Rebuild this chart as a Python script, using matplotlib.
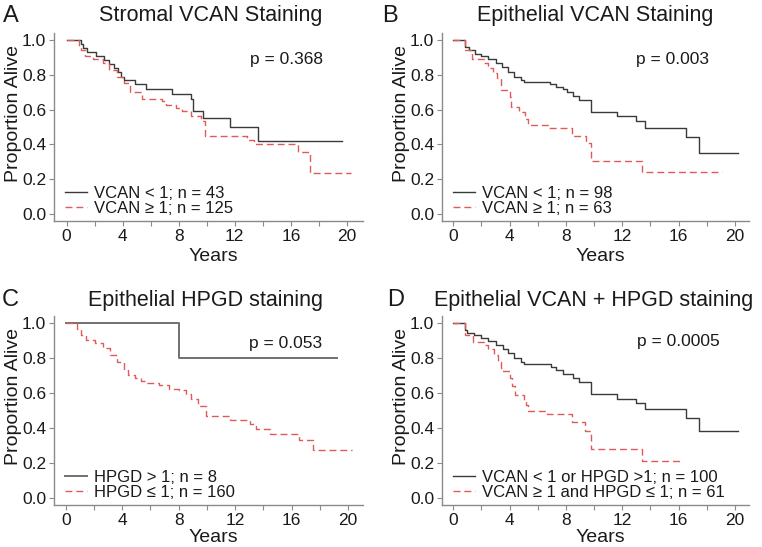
import matplotlib
matplotlib.use("Agg")
import matplotlib.pyplot as plt

plt.rcParams['font.family'] = ['Liberation Sans', 'DejaVu Sans']

# ---- data (time in years, proportion alive) ----
# A: stromal VCAN
a_low_t = [0, 1.04, 1.2, 1.47, 2.07, 2.7, 3.0, 3.4, 3.7, 3.9, 4.1, 4.9, 5.7, 7.5, 8.9, 9.0, 9.7, 11.65, 13.65, 19.65]
a_low_s = [1.0, 0.977, 0.953, 0.93, 0.907, 0.884, 0.86, 0.837, 0.814, 0.79, 0.77, 0.745, 0.717, 0.69, 0.66, 0.594, 0.55, 0.50, 0.42, 0.42]
a_high_t = [0, 0.9, 1.0, 1.3, 1.9, 2.6, 3.0, 3.6, 4.1, 4.5, 5.4, 6.8, 7.1, 7.8, 8.2, 8.9, 9.6, 9.9, 12.9, 13.4, 16.5, 17.4, 20.3]
a_high_s = [1.0, 0.96, 0.94, 0.91, 0.89, 0.865, 0.83, 0.79, 0.75, 0.70, 0.66, 0.65, 0.626, 0.61, 0.59, 0.563, 0.536, 0.446, 0.425, 0.403, 0.355, 0.235, 0.235]

# B: epithelial VCAN
b_low_t = [0, 0.8, 1.1, 1.55, 2.0, 2.5, 3.0, 3.45, 3.9, 4.3, 4.8, 5.0, 6.9, 7.3, 7.8, 8.1, 8.5, 8.9, 9.8, 11.6, 13.0, 13.6, 16.5, 17.45, 20.2]
b_low_s = [1.0, 0.96, 0.94, 0.92, 0.908, 0.889, 0.866, 0.847, 0.818, 0.79, 0.77, 0.76, 0.745, 0.73, 0.718, 0.70, 0.68, 0.655, 0.588, 0.563, 0.536, 0.496, 0.44, 0.352, 0.352]
b_high_t = [0, 0.85, 1.3, 2.2, 2.5, 2.8, 3.1, 3.4, 4.0, 4.1, 4.7, 5.1, 5.3, 6.7, 8.45, 9.4, 9.8, 13.4, 19.05]
b_high_s = [1.0, 0.94, 0.889, 0.866, 0.837, 0.81, 0.78, 0.713, 0.675, 0.613, 0.588, 0.544, 0.51, 0.492, 0.448, 0.41, 0.305, 0.243, 0.243]

# C: epithelial HPGD
c_high_t = [0, 8.0, 19.2]
c_high_s = [1.0, 0.8, 0.8]
c_low_t = [0, 0.8, 1.1, 1.45, 2.05, 2.65, 3.1, 3.6, 4.1, 4.4, 4.9, 5.35, 5.7, 6.6, 7.3, 8.0, 8.5, 8.9, 9.4, 9.9, 11.6, 13.05, 13.5, 14.5, 16.5, 17.5, 20.25]
c_low_s = [1.0, 0.965, 0.93, 0.905, 0.883, 0.855, 0.817, 0.78, 0.733, 0.705, 0.686, 0.667, 0.658, 0.643, 0.624, 0.615, 0.592, 0.564, 0.526, 0.466, 0.447, 0.424, 0.395, 0.366, 0.329, 0.273, 0.273]

# D: epithelial VCAN + HPGD
d_good_t = [0, 0.8, 1.0, 1.5, 2.0, 2.5, 3.0, 3.5, 3.9, 4.3, 4.8, 5.0, 6.95, 7.3, 7.8, 8.5, 8.9, 9.8, 11.6, 13.0, 13.6, 16.5, 17.45, 20.2]
d_good_s = [1.0, 0.96, 0.945, 0.93, 0.915, 0.896, 0.876, 0.854, 0.83, 0.80, 0.778, 0.765, 0.75, 0.73, 0.71, 0.687, 0.664, 0.594, 0.566, 0.541, 0.509, 0.455, 0.385, 0.385]
d_bad_t = [0, 0.85, 1.4, 2.2, 2.5, 2.9, 3.2, 3.4, 4.05, 4.2, 4.4, 5.05, 5.2, 5.3, 6.65, 8.45, 9.35, 9.8, 13.4, 16.3]
d_bad_s = [1.0, 0.933, 0.892, 0.873, 0.85, 0.815, 0.78, 0.725, 0.685, 0.64, 0.589, 0.555, 0.529, 0.50, 0.478, 0.437, 0.384, 0.28, 0.209, 0.209]

titles = ["Stromal VCAN Staining", "Epithelial VCAN Staining",
          "Epithelial HPGD staining", "Epithelial VCAN + HPGD staining"]
letters = ["A", "B", "C", "D"]
pvals = ["p = 0.368", "p = 0.003", "p = 0.053", "p = 0.0005"]
labels = [("VCAN < 1; n = 43", "VCAN \u2265 1; n = 125"),
          ("VCAN < 1; n = 98", "VCAN \u2265 1; n = 63"),
          ("HPGD > 1; n = 8", "HPGD \u2264 1; n = 160"),
          ("VCAN < 1 or HPGD >1; n = 100", "VCAN \u2265 1 and HPGD \u2264 1; n = 61")]
xticks = [0, 4, 8, 12, 16, 20]
yticks = [0.0, 0.2, 0.4, 0.6, 0.8, 1.0]

W, H = 762, 547
fig = plt.figure(figsize=(W / 100, H / 100), dpi=100)

BLACK = "#3a3a3a"
RED = "#e05a57"
SPINE = "#8a8a8a"


def add_panel(l, t, r, b):
    return fig.add_axes([l / W, 1 - b / H, (r - l) / W, (b - t) / H])


# pixel boxes (left, top, right, bottom) and x-limits
boxes = [(54, 33, 363, 221), (442, 33, 749, 221), (54, 316, 363, 505), (442, 316, 749, 505)]
xlims = [(-0.9, 21.15), (-0.8, 21.0), (-0.83, 21.05), (-0.8, 21.0)]
pv_pos = [(15.7, 0.89), (15.6, 0.89), (15.6, 0.885), (16.0, 0.895)]
title_pos = [(210.8, 21.5), (595, 21.5), (206, 306), (593.5, 306)]
letter_pos = [(2.5, 21.5), (382.5, 21.5), (1.5, 306), (387.5, 306)]
xlab_y = [-0.145, -0.145, -0.125, -0.125]

series = [(a_low_t, a_low_s, a_high_t, a_high_s),
          (b_low_t, b_low_s, b_high_t, b_high_s),
          (c_high_t, c_high_s, c_low_t, c_low_s),
          (d_good_t, d_good_s, d_bad_t, d_bad_s)]

for i in range(4):
    ax = add_panel(*boxes[i])
    t1, s1, t2, s2 = series[i]
    col1 = "#707070" if i == 2 else BLACK
    lw1 = 1.4 if i == 2 else 1.0
    ax.step(t1, s1, where="post", color=col1, lw=lw1, label=labels[i][0])
    ax.step(t2, s2, where="post", color=RED, lw=1.0, dashes=(5, 2.8), label=labels[i][1])

    ax.set_xlim(*xlims[i])
    ax.set_ylim(-0.04, 1.04)
    ax.set_xticks(range(0, 21, 2), minor=True)
    ax.set_xticks(xticks)
    ax.set_yticks(yticks)
    ax.set_yticklabels(["%.1f" % v for v in yticks])
    for sp in ["top", "right"]:
        ax.spines[sp].set_visible(False)
    for sp in ["left", "bottom"]:
        ax.spines[sp].set_color(SPINE)
        ax.spines[sp].set_linewidth(1.0)
    ax.tick_params(which="both", direction="out", length=3.5, width=0.8, color=SPINE,
                   labelsize=12.5, labelcolor="#1a1a1a", pad=2)

    ax.set_xlabel("Years", fontsize=14, color="#1a1a1a")
    ax.set_ylabel("Proportion Alive", fontsize=14, color="#1a1a1a")
    ax.yaxis.set_label_coords(-0.104, 0.574)
    ax.xaxis.set_label_coords(0.515, xlab_y[i])

    ax.text(pv_pos[i][0], pv_pos[i][1], pvals[i], fontsize=12.5, ha="center", va="center",
            color="#1a1a1a")

    ax.legend(loc="lower left", bbox_to_anchor=(0.035, 0.025), frameon=False, fontsize=12,
              handlelength=1.35, handletextpad=0.4, labelspacing=0.02, borderpad=0,
              borderaxespad=0, labelcolor="#1a1a1a")

    fig.text(title_pos[i][0] / W, 1 - title_pos[i][1] / H, titles[i], fontsize=15.5,
             ha="center", va="baseline", color="#1a1a1a")
    fig.text(letter_pos[i][0] / W, 1 - letter_pos[i][1] / H, letters[i], fontsize=17,
             ha="left", va="baseline", color="#1a1a1a")

fig.savefig("out.png", dpi=100)
